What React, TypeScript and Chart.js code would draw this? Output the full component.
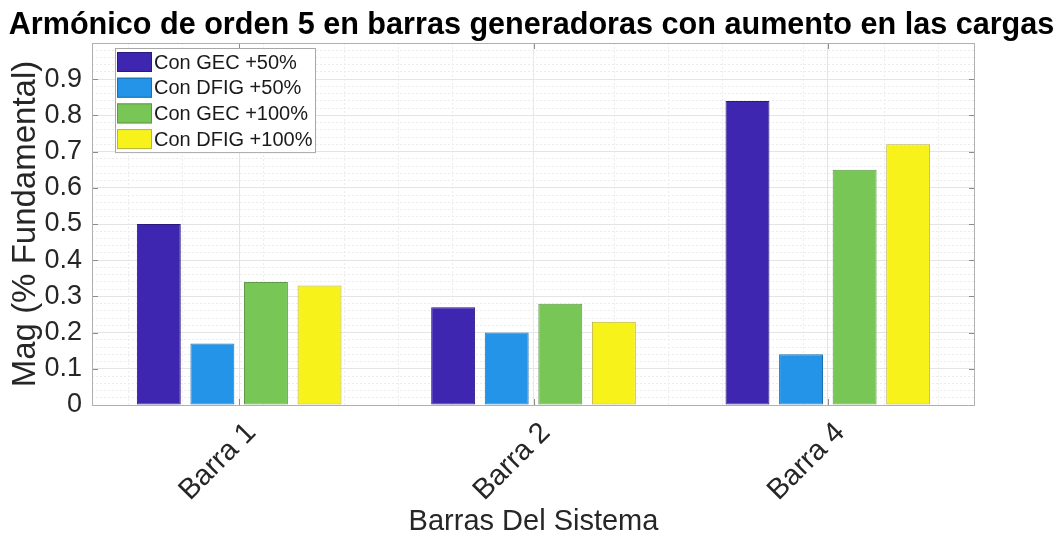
import React, { useEffect, useRef } from 'react';
import { Chart, registerables } from 'chart.js';

Chart.register(...registerables);

const FONT = "'Liberation Sans', Arial, Helvetica, sans-serif";

const categories = ['Barra 1', 'Barra 2', 'Barra 4'];
const seriesLabels = ['Con GEC +50%', 'Con DFIG +50%', 'Con GEC +100%', 'Con DFIG +100%'];
const gec50 = [0.5, 0.27, 0.84];
const dfig50 = [0.17, 0.2, 0.14];
const gec100 = [0.34, 0.28, 0.65];
const dfig100 = [0.33, 0.23, 0.72];
const seriesFill = ['#3e26b0', '#2394e8', '#78c656', '#f7f219'];
const seriesEdge = ['#2a1a7e', '#1c6fae', '#5f9a48', '#b9b245'];

const yMajorTicks = [0, 0.1, 0.2, 0.3, 0.4, 0.5, 0.6, 0.7, 0.8, 0.9];
const yMinorTicks = [
  0.02, 0.04, 0.06, 0.08, 0.12, 0.14, 0.16, 0.18, 0.22, 0.24, 0.26, 0.28,
  0.32, 0.34, 0.36, 0.38, 0.42, 0.44, 0.46, 0.48, 0.52, 0.54, 0.56, 0.58,
  0.62, 0.64, 0.66, 0.68, 0.72, 0.74, 0.76, 0.78, 0.82, 0.84, 0.86, 0.88,
  0.92, 0.94, 0.96, 0.98,
];
const xMinorTicks = [0.6, 0.8, 1.2, 1.4, 1.6, 1.8, 2.2, 2.4, 2.6, 2.8, 3.2, 3.4];
const yMin = 0;
const yMax = 1;

const boxPlugin = {
  id: 'matlabBox',
  afterDraw(chart: any) {
    const { ctx, chartArea: ca } = chart;
    const xs = chart.scales.x;
    const ys = chart.scales.y;
    ctx.save();
    // inward tick marks
    ctx.strokeStyle = '#8c8c8c';
    ctx.lineWidth = 1;
    ctx.beginPath();
    yMajorTicks.forEach((v) => {
      const py = Math.round(ys.getPixelForValue(v)) + 0.5;
      ctx.moveTo(ca.left, py);
      ctx.lineTo(ca.left + 6, py);
      ctx.moveTo(ca.right, py);
      ctx.lineTo(ca.right - 6, py);
    });
    categories.forEach((_, i) => {
      const px = Math.round(xs.getPixelForValue(i)) + 0.5;
      ctx.moveTo(px, ca.bottom);
      ctx.lineTo(px, ca.bottom - 6);
      ctx.moveTo(px, ca.top);
      ctx.lineTo(px, ca.top + 6);
    });
    ctx.stroke();
    // axes box
    ctx.strokeStyle = '#b0b0b0';
    ctx.strokeRect(ca.left + 0.5, ca.top + 0.5, ca.right - ca.left - 1, ca.bottom - ca.top);

    // legend
    const datasets = chart.data.datasets;
    const lx = ca.left + 23;
    const ly = ca.top + 5;
    const lw = 200;
    const rowH = 25.7;
    const lh = 14 + rowH * (datasets.length - 1) + 13;
    ctx.fillStyle = '#ffffff';
    ctx.fillRect(lx, ly, lw, lh);
    ctx.strokeStyle = '#a8a8a8';
    ctx.strokeRect(lx + 0.5, ly + 0.5, lw, lh);
    ctx.font = `20px ${FONT}`;
    ctx.textBaseline = 'middle';
    ctx.textAlign = 'left';
    datasets.forEach((ds: any, i: number) => {
      const cy = ly + 14 + i * rowH;
      ctx.fillStyle = ds.backgroundColor;
      ctx.fillRect(lx + 2, cy - 10, 35, 20);
      ctx.strokeStyle = ds.borderColor;
      ctx.strokeRect(lx + 2.5, cy - 9.5, 34, 19);
      ctx.fillStyle = '#1a1a1a';
      ctx.fillText(ds.label, lx + 39, cy + 1);
    });
    ctx.restore();
  },
};

export default function App() {
  const canvasRef = useRef<HTMLCanvasElement | null>(null);

  useEffect(() => {
    const canvas = canvasRef.current;
    if (!canvas) return;
    const seriesValues = [gec50, dfig50, gec100, dfig100];
    const chart = new Chart(canvas, {
      type: 'bar',
      data: {
        labels: categories,
        datasets: seriesValues.map((vals, i) => ({
          label: seriesLabels[i],
          data: vals,
          backgroundColor: seriesFill[i],
          borderColor: seriesEdge[i],
          borderWidth: 1,
          borderSkipped: false,
          categoryPercentage: 0.728,
          barPercentage: 0.82,
          xAxisID: 'x',
          yAxisID: 'y',
        })),
      },
      options: {
        responsive: false,
        animation: false,
        layout: { padding: 0 },
        plugins: {
          legend: { display: false },
          tooltip: { enabled: false },
          title: {
            display: true,
            text: 'Armónico de orden 5 en barras generadoras con aumento en las cargas',
            color: '#000000',
            font: { family: FONT, size: 30.6, weight: 'bold', lineHeight: 1 },
            padding: { top: 10, bottom: 2.4 },
          },
        },
        scales: {
          x: {
            type: 'category',
            position: 'bottom',
            offset: true,
            grid: { display: true, offset: false, color: '#e4e4e4', drawTicks: false },
            border: { display: false },
            ticks: {
              color: '#262626',
              font: { family: FONT, size: 29 },
              minRotation: 45,
              maxRotation: 45,
              autoSkip: false,
              padding: 11,
              showLabelBackdrop: true,
              backdropColor: 'rgba(0,0,0,0)',
              backdropPadding: 0,
            },
            title: {
              display: true,
              text: 'Barras Del Sistema',
              color: '#262626',
              font: { family: FONT, size: 29, lineHeight: 1 },
              padding: { top: 0, bottom: -1 },
            },
            afterFit(scale: any) {
              scale.height = 130;
            },
          },
          xm: {
            type: 'linear',
            axis: 'x',
            position: 'top',
            min: 0.5,
            max: 3.5,
            grid: { display: true, color: '#ececec', drawTicks: false },
            border: { display: false, dash: [2, 2] },
            ticks: { display: false },
            afterBuildTicks(scale: any) {
              scale.ticks = xMinorTicks.map((v) => ({ value: v }));
            },
            afterFit(scale: any) {
              scale.height = 0;
            },
          },
          y: {
            type: 'linear',
            position: 'left',
            min: yMin,
            max: yMax,
            grid: { display: true, color: '#e4e4e4', drawTicks: false },
            border: { display: false },
            ticks: {
              color: '#262626',
              font: { family: FONT, size: 27 },
              padding: 10,
              callback: (v: any) => String(Math.round(Number(v) * 10) / 10),
            },
            afterBuildTicks(scale: any) {
              scale.ticks = yMajorTicks.map((v) => ({ value: v }));
            },
            title: {
              display: true,
              text: 'Mag (% Fundamental)',
              color: '#262626',
              font: { family: FONT, size: 33, lineHeight: 1 },
              padding: { top: 9, bottom: 0 },
            },
            afterFit(scale: any) {
              scale.width = 92;
            },
          },
          ym: {
            type: 'linear',
            axis: 'y',
            position: 'right',
            min: yMin,
            max: yMax,
            grid: { display: true, color: '#ececec', drawTicks: false },
            border: { display: false, dash: [2, 2] },
            ticks: { display: false },
            afterBuildTicks(scale: any) {
              scale.ticks = yMinorTicks.map((v) => ({ value: v }));
            },
            afterFit(scale: any) {
              scale.width = 88;
            },
          },
        },
      },
      plugins: [boxPlugin],
    } as any);
    return () => chart.destroy();
  }, []);

  return (
    <div style={{ position: 'fixed', left: 0, top: 0, width: 1063, height: 535, background: '#ffffff' }}>
      <canvas ref={canvasRef} width={1063} height={535} style={{ display: 'block' }} />
    </div>
  );
}
